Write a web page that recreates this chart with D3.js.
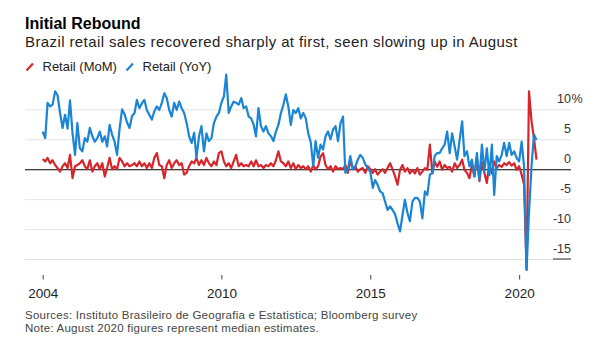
<!DOCTYPE html>
<html>
<head>
<meta charset="utf-8">
<script src="https://cdn.jsdelivr.net/npm/d3@7"></script>
<style>
  body { margin: 0; background: #fff; }
  svg { display: block; font-family: 'Liberation Sans', Arial, sans-serif; }
</style>
</head>
<body>
<svg width="596" height="349"></svg>
<script>
var svg = d3.select('svg');

// monthly figures, Jan 2004 - Aug 2020, percent
var yoyValues = [
    6.3, 5.2, 11.1, 10.5, 10.8, 13.0, 12.4, 9.4, 6.9, 9.1, 6.8, 11.5,   // 2004
    6.0, 2.4, 7.7, 3.5, 3.0, 5.2, 4.6, 6.9, 5.5, 4.6, 5.2, 6.3,         // 2005
    4.6, 5.5, 3.8, 7.4, 5.8, 4.6, 2.4, 6.8, 10.0, 9.2, 7.8, 6.9,        // 2006
    8.9, 9.4, 11.6, 10.2, 11.0, 11.6, 9.9, 9.1, 8.3, 9.7, 10.5, 9.9,    // 2007
    11.1, 12.7, 11.9, 9.9, 8.8, 11.1, 9.9, 11.3, 10.2, 9.4, 7.7, 5.5,   // 2008
    4.4, 6.1, 1.9, 5.5, 7.2, 3.0, 6.0, 4.7, 5.2, 7.7, 8.8, 9.4,         // 2009
    11.1, 12.2, 15.8, 9.4, 10.5, 11.3, 11.1, 10.8, 11.9, 10.2, 10.5, 8.8, // 2010
    8.5, 7.4, 5.5, 10.2, 7.2, 6.3, 7.2, 6.0, 5.5, 4.7, 6.3, 7.4,        // 2011
    9.4, 10.8, 12.5, 10.5, 7.4, 9.9, 9.4, 10.2, 8.5, 9.4, 8.5, 6.0,     // 2012
    4.5, 0.5, 4.7, 1.9, 4.1, 3.3, 5.5, 6.3, 5.0, 6.6, 7.2, 4.7,         // 2013
    7.7, 8.8, -0.6, 0.0, 2.2, 0.0, 0.4, 1.6, 2.4, 1.9, 0.8, 0.2,        // 2014
    -0.4, -3.1, -1.8, -2.6, -3.7, -4.0, -5.4, -6.8, -6.2, -6.8, -7.5, -9.0, // 2015
    -10.4, -7.6, -5.1, -7.3, -8.7, -5.4, -4.8, -4.8, -5.4, -8.2, -3.7, -4.3, // 2016
    -0.9, -0.6, 2.2, 2.7, 2.7, 3.5, 4.1, 6.3, 2.7, 6.0, 3.8, 1.6,       // 2017
    4.9, 8.0, 2.2, 3.0, 0.5, 1.6, -1.2, 2.7, -1.8, 4.1, -0.4, 3.5,      // 2018
    -1.0, 4.1, -4.3, 2.2, 1.3, 2.4, 4.4, 2.2, 4.4, 2.4, 3.0, 1.9,       // 2019
    1.3, 4.6, 0.5, -16.8, -7.2, 0.5, 5.8, 4.9                           // 2020
];
var momValues = [
    1.7, 1.3, 1.9, 1.0, 1.5, 0.7, 0.2, -0.4, 0.5, 1.0, 0.2, 2.4,        // 2004
    -1.5, 0.5, 0.7, 1.0, 1.5, 0.5, 0.0, 1.5, -0.4, 0.5, 1.0, 0.0,       // 2005
    1.0, -1.2, 0.2, 1.9, 0.0, 0.5, 0.0, 1.9, 1.3, 0.5, 1.0, 0.5,        // 2006
    0.7, 1.0, 0.5, 1.3, 0.5, 1.0, 0.2, 1.0, 0.2, 1.9, 2.7, 0.7,         // 2007
    0.5, -1.5, 0.7, 1.5, 0.2, 1.0, 1.5, 0.7, 1.0, -0.9, -0.6, 0.5,      // 2008
    1.3, 1.0, 1.9, 0.7, 1.5, 0.7, 1.9, 1.0, 0.5, 1.3, 0.7, 2.7,         // 2009
    3.0, 1.3, 0.5, 1.0, 0.2, 1.3, 2.4, 0.5, 1.0, 0.5, 0.7, 0.5,         // 2010
    1.3, 0.5, 1.5, 0.5, 0.7, 0.2, 0.7, 0.5, 1.0, 0.5, 1.5, 3.0,         // 2011
    1.3, 1.0, 0.5, 1.3, 0.2, 1.0, 0.0, 0.7, 0.2, 0.5, 0.0, 0.5,         // 2012
    -0.4, 0.7, 0.0, 0.5, 2.1, 2.7, 0.7, 0.0, 0.5, -0.4, 0.5, 0.0,       // 2013
    0.2, 0.0, 0.7, -0.6, 1.5, 0.0, 0.5, -0.4, 0.0, 0.2, -0.6, 0.5,      // 2014
    0.0, -0.6, 0.0, -0.9, -0.4, 0.0, -0.6, 0.2, 1.0, 0.0, -1.2, -2.6,   // 2015
    -0.1, 0.7, -0.4, 0.2, -0.7, -0.1, -0.7, 0.2, -0.9, -0.4, 0.2, -0.1, // 2016
    4.1, -0.7, 1.3, 0.4, 1.3, -0.1, 0.7, 0.2, 0.4, -0.4, 1.0, 0.2,      // 2017
    0.7, 1.6, -0.1, -0.6, -1.5, 0.7, -1.2, 2.0, -2.0, 1.2, -0.6, -2.3,  // 2018
    1.0, -0.7, 1.3, 0.2, 0.7, 0.4, 1.0, 0.7, 1.2, 0.6, 1.0, -0.1,       // 2019
    0.5, -0.9, -2.5, -16.8, 13.0, 8.0, 5.2, 1.6                         // 2020
];
var seriesNames = ['Retail (MoM)', 'Retail (YoY)'];
var seriesColors = ['#d7262b', '#1a85d4'];
var yTicks = [10, 5, 0, -5, -10, -15];
var xTickYears = [2004, 2010, 2015, 2020];

var months = d3.timeMonth.range(new Date(2004, 0, 1), new Date(2020, 8, 1));
var mom = months.map(function (d, i) { return { date: d, value: momValues[i] }; });
var yoy = months.map(function (d, i) { return { date: d, value: yoyValues[i] }; });

var left = 25, right = 571;

var x = d3.scaleTime()
    .domain([months[0], months[months.length - 1]])
    .range([42.7, 536.5]);
var y = d3.scaleLinear()
    .domain([-15, 10])
    .range([259, 109.4]);

// titles
svg.append('text')
    .attr('x', 25).attr('y', 28.5)
    .style('font-size', '16px').style('font-weight', 'bold').style('fill', '#000')
    .text('Initial Rebound');
svg.append('text')
    .attr('x', 25).attr('y', 46.5)
    .style('font-size', '15px').style('letter-spacing', '0.4px').style('fill', '#222')
    .text('Brazil retail sales recovered sharply at first, seen slowing up in August');

// legend
var legend = svg.append('g').attr('transform', 'translate(26,71)');
var item = legend.selectAll('g')
    .data(seriesNames)
    .enter()
    .append('g')
    .attr('transform', function (d, i) { return 'translate(' + (i * 100) + ',0)'; });
item.append('line')
    .attr('x1', 0.5).attr('y1', -0.5).attr('x2', 7).attr('y2', -7.5)
    .attr('stroke', function (d, i) { return seriesColors[i]; })
    .attr('stroke-width', 2.2);
item.append('text')
    .attr('x', 16.5).attr('y', 0)
    .style('font-size', '13px').style('fill', '#222')
    .text(function (d) { return d; });

// y grid + labels
var yAxis = d3.axisLeft(y)
    .tickValues(yTicks)
    .tickSize(right - left)
    .tickFormat(function (d) { return String(d); });
var yg = svg.append('g')
    .attr('transform', 'translate(' + right + ',0)')
    .call(yAxis);
yg.select('.domain').remove();
yg.selectAll('.tick line')
    .attr('stroke', function (d) { return d === 0 ? '#000' : '#e3e3e3'; })
    .attr('stroke-width', 1);
yg.selectAll('.tick text')
    .attr('x', 0)
    .attr('dy', -6.6)
    .style('font-family', 'Liberation Sans, Arial, sans-serif')
    .style('font-size', '12.5px')
    .style('fill', '#333');
yg.selectAll('.tick')
    .filter(function (d) { return d === 10; })
    .append('text')
    .attr('x', 0.5).attr('dy', -6.6)
    .attr('text-anchor', 'start')
    .style('font-family', 'Liberation Sans, Arial, sans-serif')
    .style('font-size', '12.5px')
    .style('fill', '#333')
    .text('%');
// short rule under the lowest label
yg.append('line')
    .attr('x1', -18).attr('x2', 0)
    .attr('y1', y(-15)).attr('y2', y(-15))
    .attr('stroke', '#333').attr('stroke-width', 1);

// x axis
var xAxis = d3.axisBottom(x)
    .tickValues(xTickYears.map(function (yr) { return new Date(yr, 0, 1); }))
    .tickSize(4.5)
    .tickPadding(9)
    .tickFormat(d3.timeFormat('%Y'));
var xg = svg.append('g')
    .attr('transform', 'translate(0,275)')
    .call(xAxis);
xg.select('.domain').remove();
xg.selectAll('.tick line').attr('stroke', '#444');
xg.selectAll('.tick text')
    .style('font-family', 'Liberation Sans, Arial, sans-serif')
    .style('font-size', '13.5px')
    .style('fill', '#222');

// lines, YoY drawn over MoM
var line = d3.line()
    .x(function (d) { return x(d.date); })
    .y(function (d) { return y(d.value); });
svg.selectAll('path.series')
    .data([mom, yoy])
    .enter()
    .append('path')
    .attr('class', 'series')
    .attr('d', line)
    .attr('fill', 'none')
    .attr('stroke', function (d, i) { return seriesColors[i]; })
    .attr('stroke-width', 2.2)
    .attr('stroke-linejoin', 'round');

// footnotes
svg.append('text')
    .attr('x', 25).attr('y', 318.5)
    .style('font-size', '11.5px').style('letter-spacing', '0.25px').style('fill', '#444')
    .text('Sources: Instituto Brasileiro de Geografia e Estatistica; Bloomberg survey');
svg.append('text')
    .attr('x', 25).attr('y', 332)
    .style('font-size', '11.5px').style('letter-spacing', '0.25px').style('fill', '#444')
    .text('Note: August 2020 figures represent median estimates.');
</script>
</body>
</html>
